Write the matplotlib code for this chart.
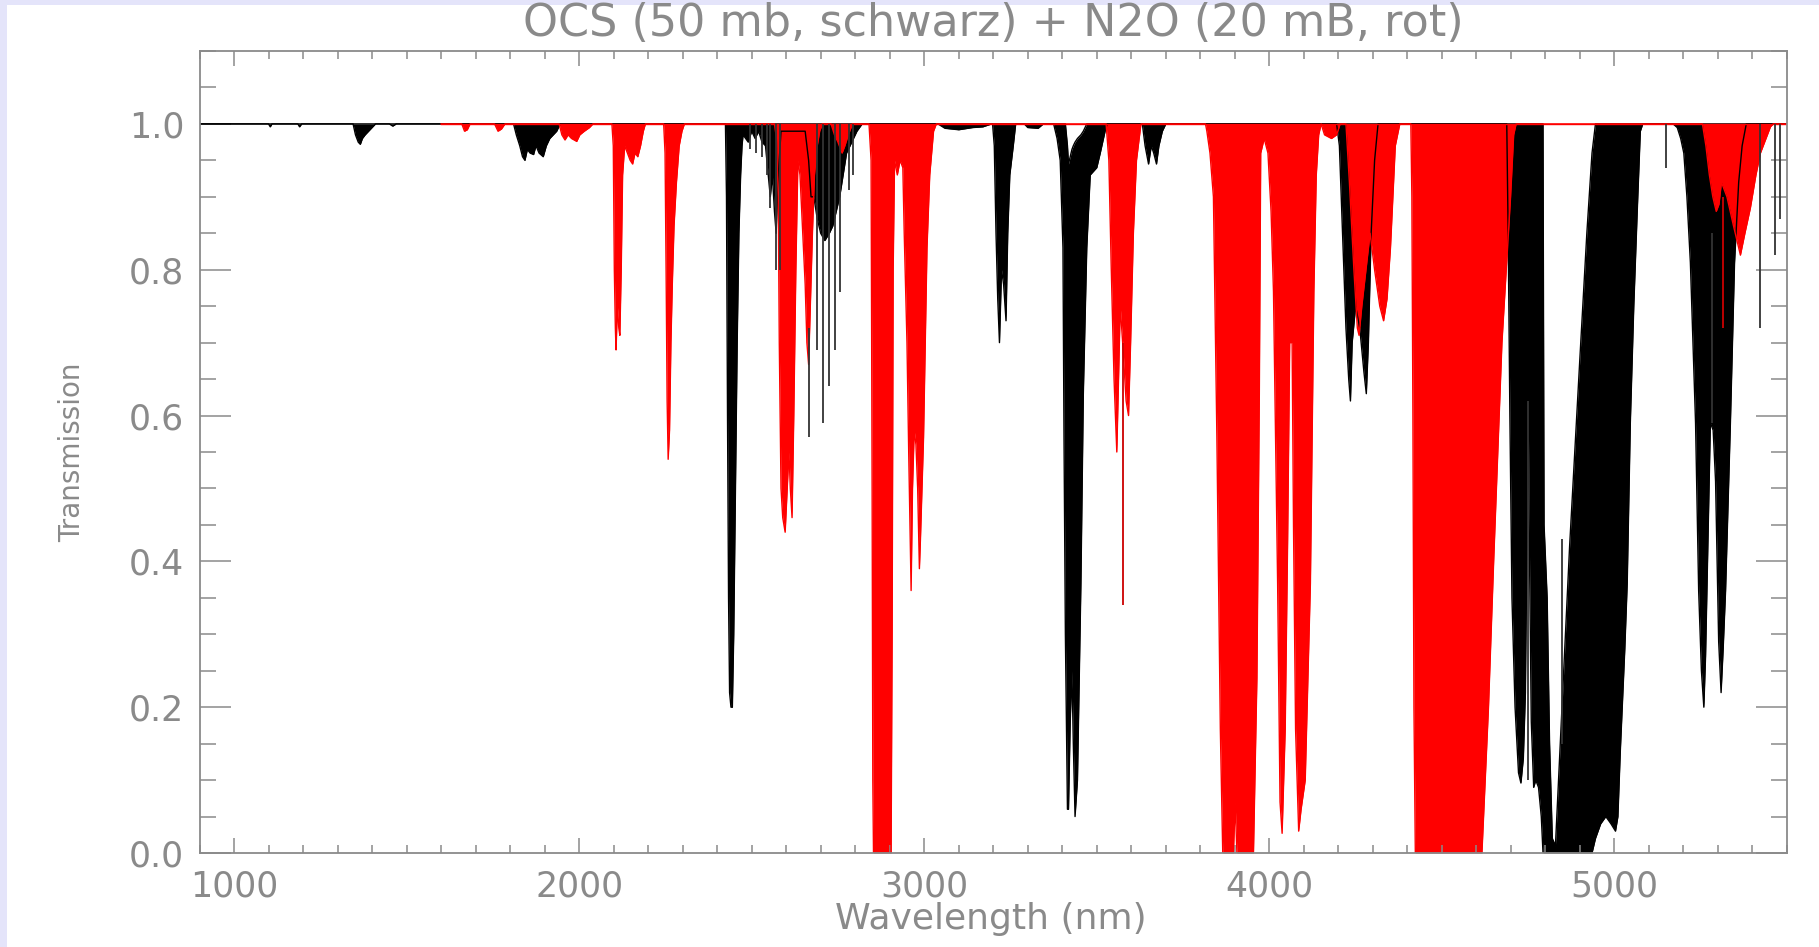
import numpy as np
import matplotlib
matplotlib.use("Agg")
import matplotlib.pyplot as plt
from matplotlib.patches import Rectangle
from matplotlib.ticker import MultipleLocator

# OCS (black): wavelength, lower envelope (line cores), upper envelope (between lines)
ocs_wl = [900, 1100, 1105, 1110, 1185, 1190, 1196,
          1345, 1352, 1360, 1366, 1372, 1380, 1390, 1400, 1410, 1450, 1460, 1470,
          1810, 1818, 1828, 1836, 1843, 1850, 1858, 1868, 1875, 1884, 1896, 1905, 1915, 1925, 1935, 1945,
          2424, 2427, 2430, 2433, 2436, 2440, 2444, 2448, 2453, 2458, 2463, 2468, 2472, 2475,
          2490, 2500, 2510, 2520, 2530, 2540, 2548, 2554, 2560, 2566, 2571, 2576, 2585, 2600, 2620,
          2640, 2655, 2665, 2672, 2680, 2690, 2700, 2712, 2725, 2735, 2745, 2755, 2765, 2775, 2790,
          2805, 2820, 3040, 3060, 3100, 3140, 3170, 3195,
          3198, 3203, 3208, 3213, 3218, 3224, 3230, 3237, 3242, 3248, 3258, 3265,
          3290, 3300, 3330, 3345,
          3375, 3385, 3394, 3402, 3405, 3409, 3415, 3418, 3423, 3428, 3432, 3437, 3444, 3454, 3461,
          3471, 3481, 3500, 3510, 3524, 3530,
          3632, 3640, 3650, 3658, 3665, 3673, 3680, 3690, 3700,
          4195, 4203, 4212, 4222, 4230, 4235, 4240, 4250, 4262, 4274, 4281, 4287, 4295, 4305, 4315,
          4688, 4692, 4697, 4703, 4712, 4722, 4729, 4736, 4742, 4747, 4750, 4754, 4759, 4766, 4772,
          4780, 4788, 4793, 4796, 4805, 4812, 4820, 4829, 4843, 4870, 4900, 4920, 4935, 4945, 4960,
          4975, 4990, 5003, 5010, 5017, 5030, 5037, 5046, 5056, 5066, 5075, 5082,
          5170, 5182, 5192, 5201, 5210, 5220, 5235, 5244, 5252, 5259, 5264, 5268, 5278, 5286, 5293,
          5302, 5309, 5315, 5322, 5336, 5348, 5360, 5370, 5382, 5500]
ocs_lo = [1, 1, 0.996, 1, 1, 0.996, 1,
          1, 0.985, 0.975, 0.972, 0.98, 0.985, 0.99, 0.995, 1, 1, 0.997, 1,
          1, 0.985, 0.97, 0.955, 0.95, 0.965, 0.96, 0.958, 0.97, 0.96, 0.955, 0.97, 0.98, 0.985, 0.99, 1,
          1, 0.9, 0.6, 0.35, 0.22, 0.2, 0.2, 0.3, 0.5, 0.7, 0.85, 0.93, 0.97, 0.985,
          0.975, 0.99, 0.98, 0.99, 0.975, 0.97, 0.93, 0.9, 0.93, 0.88, 0.85, 0.92, 0.99, 0.99, 0.99,
          0.99, 0.99, 0.95, 0.9, 0.9, 0.87, 0.85, 0.84, 0.85, 0.86, 0.88, 0.9, 0.93, 0.96, 0.975,
          0.99, 1, 1, 0.994, 0.992, 0.995, 0.996, 1,
          1, 0.97, 0.85, 0.76, 0.70, 0.8, 0.78, 0.73, 0.85, 0.93, 0.97, 1,
          1, 0.995, 0.994, 1,
          1, 0.98, 0.95, 0.83, 0.57, 0.3, 0.06, 0.06, 0.18, 0.25, 0.15, 0.05, 0.1, 0.37, 0.63,
          0.83, 0.93, 0.94, 0.96, 0.99, 1,
          1, 0.97, 0.945, 0.97, 0.96, 0.945, 0.97, 0.99, 1,
          1, 0.97, 0.85, 0.72, 0.65, 0.62, 0.7, 0.75, 0.72, 0.66, 0.63, 0.7, 0.85, 0.95, 1,
          1, 0.85, 0.6, 0.35, 0.2, 0.11, 0.096, 0.13, 0.22, 0.45, 0.62, 0.4, 0.18, 0.09, 0.1,
          0.09, 0.05, 0, 0, 0, 0, 0, 0, 0, 0, 0, 0, 0, 0.02, 0.04,
          0.05, 0.04, 0.03, 0.05, 0.14, 0.28, 0.37, 0.59, 0.75, 0.88, 0.99, 1,
          1, 0.995, 0.98, 0.96, 0.9, 0.81, 0.59, 0.36, 0.25, 0.2, 0.27, 0.36, 0.59, 0.58, 0.51,
          0.29, 0.22, 0.28, 0.36, 0.59, 0.81, 0.92, 0.97, 1, 1]
ocs_hi = [1, 1, 1, 1, 1, 1, 1,
          1, 1, 1, 1, 1, 1, 1, 1, 1, 1, 1, 1,
          1, 1, 1, 1, 1, 1, 1, 1, 1, 1, 1, 1, 1, 1, 1, 1,
          1, 1, 1, 1, 1, 1, 1, 1, 1, 1, 1, 1, 1, 1,
          1, 1, 1, 1, 1, 1, 1, 1, 1, 1, 1, 1, 1, 1, 1,
          1, 1, 1, 1, 1, 1, 1, 1, 1, 1, 1, 1, 1, 1, 1,
          1, 1, 1, 1, 1, 1, 1, 1,
          1, 1, 1, 1, 1, 1, 1, 1, 1, 1, 1, 1,
          1, 1, 1, 1,
          1, 1, 1, 1, 1, 1, 0.97, 0.945, 0.955, 0.965, 0.97, 0.975, 0.98, 0.985, 0.99,
          1, 1, 1, 1, 1, 1,
          1, 1, 1, 1, 1, 1, 1, 1, 1,
          1, 1, 1, 1, 1, 1, 1, 1, 1, 1, 1, 1, 1, 1, 1,
          1, 1, 1, 1, 1, 1, 1, 1, 1, 1, 1, 1, 1, 1, 1,
          1, 1, 1, 0.45, 0.35, 0.15, 0.02, 0.01, 0.15, 0.42, 0.68, 0.85, 0.96, 1, 1,
          1, 1, 1, 1, 1, 1, 1, 1, 1, 1, 1, 1,
          1, 1, 1, 1, 1, 1, 1, 1, 1, 1, 1, 1, 1, 1, 1,
          1, 1, 1, 1, 1, 1, 1, 1, 1, 1]

# N2O (red): wavelength, lower envelope (upper envelope is 1.0)
n2o_wl = [1600, 1660, 1668, 1676, 1684, 1755, 1765, 1775, 1785,
          1942, 1950, 1959, 1968, 1978, 1993, 2002, 2015, 2030, 2040,
          2095, 2099, 2102, 2105, 2107, 2111, 2115, 2118, 2122, 2126, 2132, 2140, 2148, 2155, 2162,
          2170, 2178, 2186, 2192,
          2245, 2249, 2252, 2255, 2258, 2262, 2266, 2270, 2275, 2282, 2290, 2298, 2305,
          2566, 2572, 2577, 2580, 2585, 2590, 2597, 2603, 2608, 2612, 2617, 2622, 2628, 2634, 2640,
          2648, 2655, 2660, 2665, 2670, 2676, 2682, 2690, 2697, 2705,
          2730, 2740, 2750, 2762, 2770, 2780, 2792,
          2840, 2846, 2849, 2851, 2853, 2904, 2907, 2910, 2914, 2922, 2930, 2938, 2942, 2950, 2955,
          2962, 2966, 2971, 2976, 2981, 2986, 2989, 2998, 3008, 3016, 3027, 3035,
          3527, 3535, 3542, 3550, 3558, 3563, 3568, 3575, 3585, 3592, 3598, 3606, 3615, 3628,
          3815, 3819, 3828, 3838, 3848, 3858, 3865, 3896, 3901, 3906, 3954, 3964, 3971, 3975, 3985,
          3996, 4005, 4012, 4024, 4031, 4037, 4046, 4053, 4059, 4066, 4070, 4076, 4085, 4092, 4104,
          4119, 4124, 4129, 4136, 4143, 4150, 4160, 4180, 4195, 4205,
          4222, 4232, 4245, 4255, 4260, 4268, 4280, 4292, 4305, 4320, 4331, 4341, 4351, 4365, 4378,
          4410, 4413, 4416, 4419, 4423, 4616, 4635, 4650, 4674, 4699, 4708, 4715,
          5255, 5265, 5275, 5285, 5295, 5303, 5310, 5318, 5326, 5345, 5365, 5378, 5394, 5410,
          5423, 5452, 5460, 5500]
n2o_lo = [1, 1, 0.99, 0.992, 1, 1, 0.99, 0.993, 1,
          1, 0.985, 0.978, 0.985, 0.98, 0.976, 0.985, 0.99, 0.995, 1,
          1, 0.97, 0.8, 0.72, 0.69, 0.75, 0.72, 0.71, 0.8, 0.93, 0.97, 0.96, 0.95, 0.945, 0.96,
          0.955, 0.97, 0.99, 1,
          1, 0.96, 0.8, 0.62, 0.54, 0.58, 0.7, 0.78, 0.86, 0.92, 0.97, 0.99, 1,
          1, 0.98, 0.9, 0.7, 0.5, 0.46, 0.44, 0.5, 0.55, 0.5, 0.46, 0.6, 0.8, 0.95, 0.93,
          0.85, 0.78, 0.7, 0.67, 0.75, 0.85, 0.93, 0.97, 0.99, 1,
          1, 0.985, 0.975, 0.96, 0.97, 0.985, 1,
          1, 0.95, 0.5, 0.1, 0, 0, 0.3, 0.8, 0.95, 0.93, 0.95, 0.94, 0.85, 0.7, 0.55,
          0.36, 0.5, 0.58, 0.56, 0.5, 0.39, 0.43, 0.57, 0.83, 0.93, 0.99, 1,
          1, 0.95, 0.8, 0.65, 0.55, 0.65, 0.75, 0.7, 0.62, 0.6, 0.7, 0.85, 0.95, 1,
          1, 0.99, 0.96, 0.9, 0.57, 0.17, 0, 0, 0.07, 0, 0, 0.24, 0.63, 0.96, 0.98,
          0.96, 0.88, 0.77, 0.37, 0.07, 0.027, 0.17, 0.43, 0.70, 0.70, 0.45, 0.17, 0.03, 0.06, 0.1,
          0.37, 0.57, 0.77, 0.93, 0.985, 1, 0.985, 0.98, 0.985, 1,
          1, 0.92, 0.8, 0.72, 0.71, 0.75, 0.8, 0.85, 0.8, 0.75, 0.73, 0.76, 0.83, 0.97, 1,
          1, 0.9, 0.6, 0.2, 0, 0, 0.2, 0.4, 0.7, 0.9, 0.985, 1,
          1, 0.97, 0.93, 0.9, 0.88, 0.89, 0.92, 0.91, 0.9, 0.86, 0.82, 0.85, 0.885, 0.93,
          0.96, 0.996, 1, 1]

# single strong lines: wavelength, bottom, top
ocs_line_wl = [2496, 2512, 2531, 2545, 2554, 2571, 2582, 2665, 2689, 2708, 2723, 2742, 2755,
               2781, 2795, 4749, 4848, 5148, 5283, 5423, 5466, 5481]
ocs_line_lo = [0.965, 0.96, 0.955, 0.93, 0.885, 0.8, 0.8, 0.57, 0.69, 0.59, 0.64, 0.69, 0.77,
               0.91, 0.93, 0.1, 0.15, 0.94, 0.59, 0.72, 0.82, 0.87]
ocs_line_hi = [1, 1, 1, 1, 1, 1, 1, 0.72, 1, 1, 1, 1, 1,
               1, 1, 0.62, 0.43, 1, 0.85, 1, 1, 1]
n2o_line_wl = [3575, 5315]
n2o_line_lo = [0.34, 0.72]
n2o_line_hi = [0.7, 0.9]

title = "OCS (50 mb, schwarz) + N2O (20 mB, rot)"
xlabel = "Wavelength (nm)"
ylabel = "Transmission"
xticks = [1000, 2000, 3000, 4000, 5000]
yticks = [0.0, 0.2, 0.4, 0.6, 0.8, 1.0]

W, H = 1819, 947
grey = "#8a8a8a"
plt.rcParams['font.family'] = ['DejaVu Sans']

fig = plt.figure(figsize=(W / 100, H / 100), dpi=100)
fig.patch.set_facecolor("#E4E4FA")
fig.patches.append(Rectangle((7 / W, 0), 1 - 7 / W, 1 - 5 / H, transform=fig.transFigure,
                             facecolor="white", edgecolor="none", zorder=-10))

ax = fig.add_axes([199.5 / W, 1 - 853 / H, (1787 - 199.5) / W, (853 - 51) / H])
ax.set_facecolor("white")

# OCS
ax.fill_between(ocs_wl, ocs_lo, ocs_hi, color="black", linewidth=0)
ax.plot(ocs_wl, ocs_lo, color="black", lw=1.0)
ax.plot(ocs_wl, ocs_hi, color="black", lw=1.0)

# N2O on top
n2o_hi = np.ones(len(n2o_wl))
ax.fill_between(n2o_wl, n2o_lo, n2o_hi, color="red", linewidth=0)
ax.plot(n2o_wl, n2o_lo, color="red", lw=1.0)
ax.plot(n2o_wl, n2o_hi, color="red", lw=1.0)

ax.vlines(ocs_line_wl, ocs_line_lo, ocs_line_hi, color="#333333", lw=1.3)
ax.vlines(n2o_line_wl, n2o_line_lo, n2o_line_hi, color="#cc0000", lw=1.3)

ax.set_xlim(900, 5500)
ax.set_ylim(0, 1.1)
ax.set_xticks(xticks)
ax.set_yticks(yticks)
ax.set_yticklabels(["%.1f" % v for v in yticks])
ax.xaxis.set_minor_locator(MultipleLocator(100))
ax.yaxis.set_minor_locator(MultipleLocator(0.05))

for s in ax.spines.values():
    s.set_color(grey)
    s.set_linewidth(1.3)
ax.tick_params(axis="both", which="both", direction="in", top=True, right=True,
               color=grey, width=1.1, labelcolor=grey, labelsize=25)
ax.tick_params(axis="x", which="major", length=11, pad=12)
ax.tick_params(axis="x", which="minor", length=5.5)
ax.tick_params(axis="y", which="major", length=22, pad=11)
ax.tick_params(axis="y", which="minor", length=11.5)

fig.text(993 / W, 1 - 23 / H, title, ha="center", va="center", fontsize=32, color=grey)
fig.text(991 / W, 1 - 919 / H, xlabel, ha="center", va="center", fontsize=26, color=grey)
fig.text(72 / W, 1 - 452 / H, ylabel, ha="center", va="center", rotation=90,
         fontsize=20, color=grey)

fig.savefig("out.png", dpi=100, facecolor=fig.get_facecolor())
